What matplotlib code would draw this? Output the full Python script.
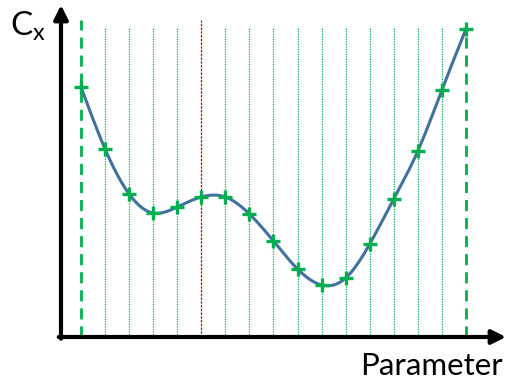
import numpy as np
import matplotlib
matplotlib.use('Agg')
import matplotlib.pyplot as plt

# sample points along the parameter (grid index) and the Cx value at each
param_idx = np.arange(17)
cx_values = [2.50, 1.88, 1.43, 1.24, 1.30, 1.40, 1.40, 1.23, 0.96,
             0.68, 0.52, 0.59, 0.93, 1.38, 1.86, 2.47, 3.08]
highlight_idx = 5  # the dark red line
x_label = 'Parameter'
y_label = r'C$_\mathregular{x}$'

blue = '#41719C'
green = '#00B050'
dark_red = '#C00000'


def natural_spline(x, y, n=400):
    # natural cubic spline, just to draw the smooth curve through the points
    x = np.asarray(x, float)
    y = np.asarray(y, float)
    h = np.diff(x)
    m = len(x)
    A = np.zeros((m, m))
    b = np.zeros(m)
    A[0, 0] = A[-1, -1] = 1
    for i in range(1, m - 1):
        A[i, i - 1] = h[i - 1]
        A[i, i] = 2 * (h[i - 1] + h[i])
        A[i, i + 1] = h[i]
        b[i] = 6 * ((y[i + 1] - y[i]) / h[i] - (y[i] - y[i - 1]) / h[i - 1])
    M = np.linalg.solve(A, b)
    xs = np.linspace(x[0], x[-1], n)
    k = np.clip(np.searchsorted(x, xs) - 1, 0, m - 2)
    t0 = x[k + 1] - xs
    t1 = xs - x[k]
    hk = h[k]
    ys = (M[k] * t0**3 / (6 * hk) + M[k + 1] * t1**3 / (6 * hk)
          + (y[k] / hk - M[k] * hk / 6) * t0
          + (y[k + 1] / hk - M[k + 1] * hk / 6) * t1)
    return xs, ys


fig = plt.figure(figsize=(5.06, 3.82), dpi=100)
ax = fig.add_axes([61 / 506, (382 - 337) / 382, 445 / 506, 332 / 382])
ax.set_xlim(-20 / 24.06, 425 / 24.06)
ax.set_ylim(0, 3.32)
ax.axis('off')

# vertical grid lines
for i in param_idx:
    if i == 0 or i == param_idx[-1]:
        top = 3.17 if i == 0 else cx_values[-1]
        ax.plot([i, i], [0, top], color=green, lw=2.0, dashes=(4, 2.5))
    elif i == highlight_idx:
        ax.plot([i, i], [0, 3.17], color=dark_red, lw=0.9, dashes=(2, 1))
    else:
        ax.plot([i, i], [0, 3.09], color=green, lw=0.9, dashes=(1, 1))

# curve + markers
xs, ys = natural_spline(param_idx, cx_values)
ax.plot(xs, ys, color=blue, lw=2.2, zorder=3)
ax.plot(param_idx, cx_values, '+', color=green, ms=10, mew=2.4, zorder=4)

# axes with arrow heads
arr = dict(arrowstyle='-|>,head_length=0.6,head_width=0.3', lw=3, color='black',
           mutation_scale=14, shrinkA=0, shrinkB=0)
ax.annotate('', xy=(0, 1), xytext=(0, -0.005), xycoords='axes fraction',
            arrowprops=arr, annotation_clip=False)
ax.annotate('', xy=(1, 0), xytext=(-0.005, 0), xycoords='axes fraction',
            arrowprops=arr, annotation_clip=False)

plt.rcParams['mathtext.fontset'] = 'custom'
plt.rcParams['mathtext.rm'] = 'Lato'
fig.text(503 / 506, 1 - 375 / 382, x_label, ha='right', va='baseline',
         fontsize=22.5, family='Lato')
fig.text(10 / 506, 1 - 35 / 382, y_label, ha='left', va='baseline',
         fontsize=24, family='Lato')

fig.savefig('out.png', dpi=100)
